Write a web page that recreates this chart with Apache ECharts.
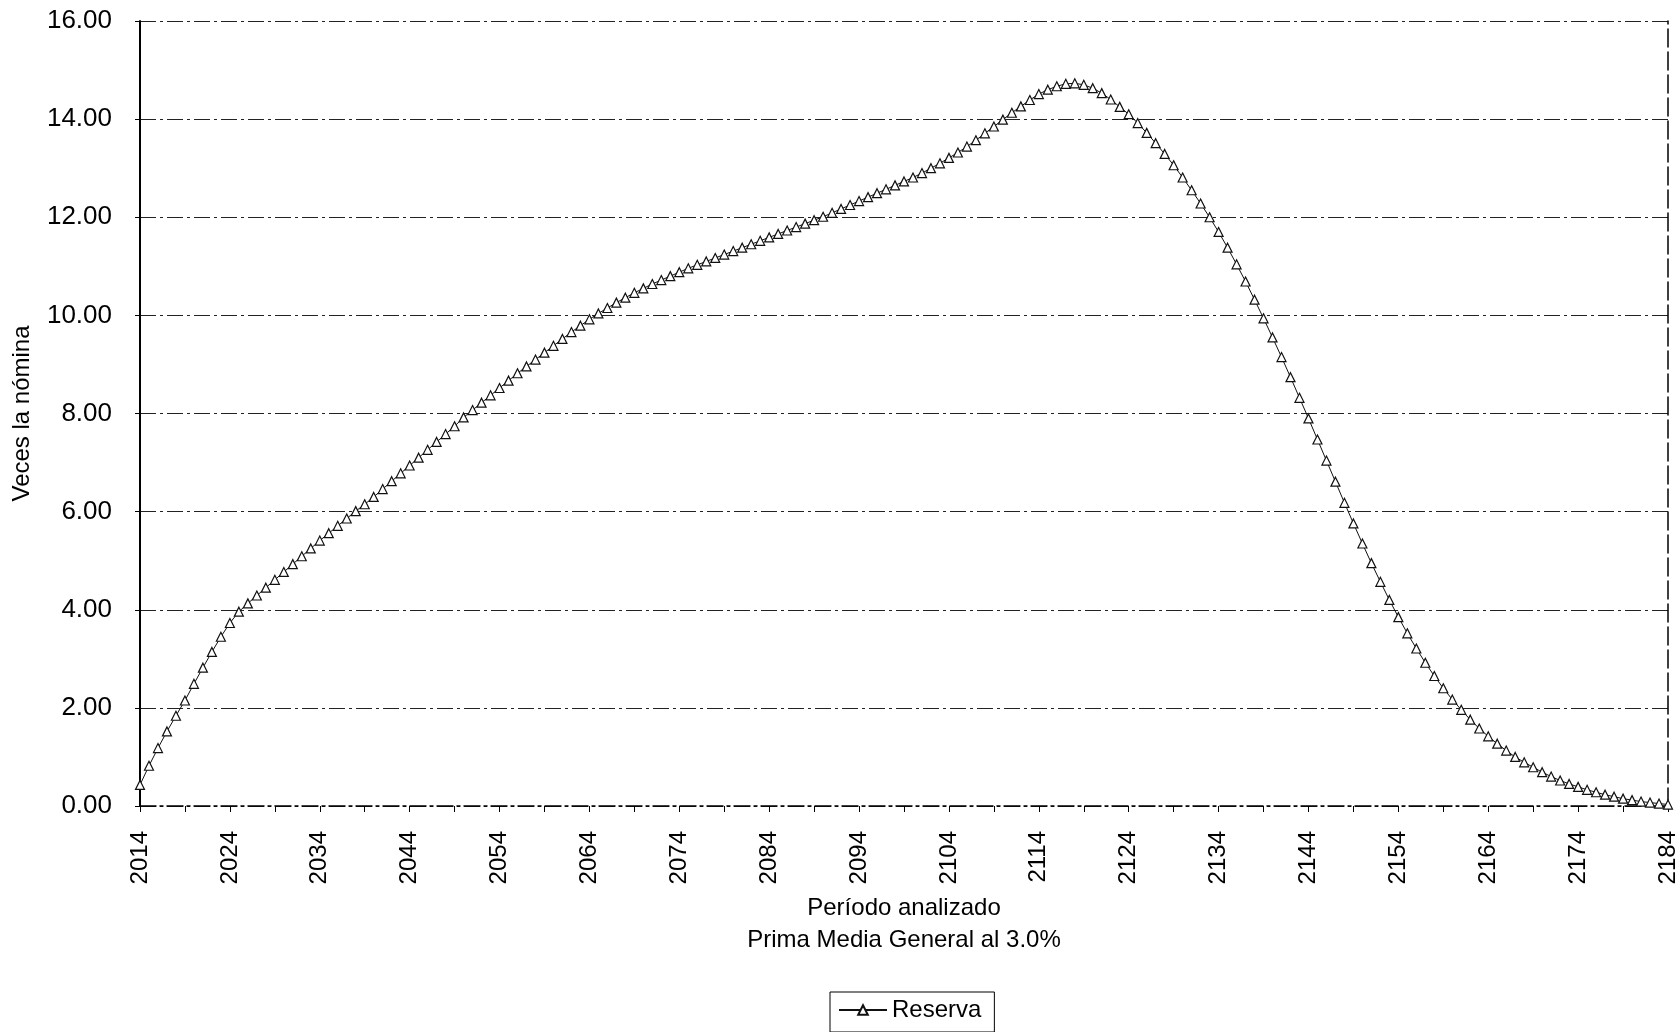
<!DOCTYPE html>
<html>
<head>
<meta charset="utf-8">
<script src="https://cdn.jsdelivr.net/npm/echarts@6/dist/echarts.min.js"></script>
<style>
html,body{margin:0;padding:0;background:#fff;}
#chart{width:1680px;height:1032px;}
</style>
</head>
<body>
<div id="chart"></div>
<script>
const startYear = 2014;
const endYear = 2184;
const yTicks = [0, 2, 4, 6, 8, 10, 12, 14, 16];
const seriesName = 'Reserva';
const yAxisTitle = 'Veces la nómina';
const xAxisTitle = 'Período analizado';
const subTitle = 'Prima Media General al 3.0%';

const reserva = [
  0.43, 0.82, 1.18, 1.52, 1.84, 2.15, 2.49, 2.82, 3.14, 3.45,
  3.73, 3.96, 4.13, 4.29, 4.45, 4.61, 4.77, 4.93, 5.09, 5.25,
  5.41, 5.56, 5.71, 5.86, 6.01, 6.15, 6.30, 6.46, 6.62, 6.78,
  6.94, 7.10, 7.26, 7.42, 7.58, 7.74, 7.92, 8.07, 8.22, 8.37,
  8.52, 8.67, 8.82, 8.96, 9.10, 9.24, 9.38, 9.52, 9.66, 9.79,
  9.92, 10.04, 10.15, 10.26, 10.36, 10.46, 10.55, 10.64, 10.72, 10.80,
  10.88, 10.96, 11.03, 11.10, 11.17, 11.24, 11.31, 11.38, 11.45, 11.52,
  11.59, 11.66, 11.73, 11.80, 11.87, 11.94, 12.01, 12.09, 12.17, 12.25,
  12.33, 12.41, 12.49, 12.57, 12.65, 12.73, 12.81, 12.90, 13.00, 13.10,
  13.21, 13.32, 13.44, 13.57, 13.71, 13.85, 13.99, 14.13, 14.26, 14.39,
  14.51, 14.60, 14.67, 14.72, 14.73, 14.70, 14.63, 14.53, 14.40, 14.25,
  14.10, 13.92, 13.72, 13.51, 13.29, 13.06, 12.81, 12.55, 12.28, 12.00,
  11.70, 11.38, 11.04, 10.69, 10.32, 9.94, 9.55, 9.15, 8.74, 8.32,
  7.90, 7.47, 7.04, 6.61, 6.18, 5.76, 5.35, 4.95, 4.57, 4.20,
  3.85, 3.52, 3.21, 2.92, 2.65, 2.40, 2.17, 1.96, 1.76, 1.58,
  1.42, 1.27, 1.13, 1.00, 0.89, 0.79, 0.69, 0.60, 0.52, 0.45,
  0.39, 0.33, 0.28, 0.23, 0.19, 0.15, 0.12, 0.09, 0.07, 0.05,
  0.03
];

const years = [];
for (let y = startYear; y <= endYear; y++) years.push(String(y));

const FONT = "'Liberation Sans', Arial, sans-serif";
const dashDot = [16, 4, 3, 4];

const chart = echarts.init(document.getElementById('chart'), null, {renderer: 'canvas'});
chart.setOption({
  animation: false,
  backgroundColor: '#fff',
  textStyle: {fontFamily: FONT, color: '#000'},
  grid: {left: 140, right: 12, top: 21, bottom: 226, containLabel: false},
  legend: {
    data: [seriesName],
    left: 830,
    top: 992,
    padding: [6, 13, 10, 8],
    borderColor: '#000',
    borderWidth: 1,
    itemWidth: 48,
    itemHeight: 12,
    textStyle: {fontFamily: FONT, fontSize: 24, color: '#000'}
  },
  xAxis: {
    type: 'category',
    data: years,
    boundaryGap: false,
    name: xAxisTitle + '\n' + subTitle,
    nameLocation: 'middle',
    nameGap: 86,
    nameTextStyle: {fontFamily: FONT, fontSize: 24, color: '#000', lineHeight: 32},
    axisLine: {show: true, lineStyle: {color: '#000', width: 1.5, type: dashDot}},
    axisTick: {show: true, interval: 4, length: 6, lineStyle: {color: '#000'}},
    axisLabel: {
      interval: 9, rotate: 90, margin: 25,
      fontFamily: FONT, fontSize: 24, color: '#000'
    },
    splitLine: {show: false}
  },
  yAxis: [{
    type: 'value',
    min: yTicks[0],
    max: yTicks[yTicks.length - 1],
    interval: 2,
    name: yAxisTitle,
    nameLocation: 'middle',
    nameRotate: 90,
    nameGap: 106,
    nameTextStyle: {fontFamily: FONT, fontSize: 24, color: '#000'},
    axisLine: {show: true, lineStyle: {color: '#000', width: 2}},
    axisTick: {show: true, length: 5, lineStyle: {color: '#000'}},
    axisLabel: {
      margin: 28, fontFamily: FONT, fontSize: 26, color: '#000',
      formatter: v => v.toFixed(2)
    },
    splitLine: {show: true, lineStyle: {color: '#222', width: 1, type: dashDot}}
  }, {
    type: 'value',
    position: 'right',
    min: yTicks[0],
    max: yTicks[yTicks.length - 1],
    interval: 2,
    axisLine: {show: true, lineStyle: {color: '#000', width: 1.5, type: [18, 5]}},
    axisTick: {show: false},
    axisLabel: {show: false},
    splitLine: {show: false}
  }],
  series: [{
    name: seriesName,
    type: 'line',
    data: reserva,
    yAxisIndex: 0,
    symbol: 'triangle',
    symbolSize: 9,
    showAllSymbol: true,
    lineStyle: {color: '#111', width: 1},
    itemStyle: {color: '#fff', borderColor: '#111', borderWidth: 1.2}
  }]
});
</script>
</body>
</html>
